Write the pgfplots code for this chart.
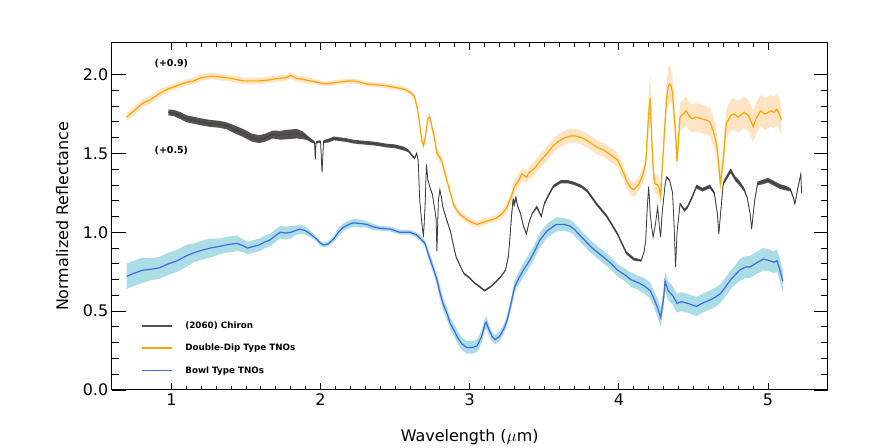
\documentclass[border=0pt]{standalone}
\usepackage{fontspec}
\setmainfont{DejaVu Sans}
\usepackage{pgfplots}
\usepackage{pgfplotstable}
\pgfplotsset{compat=1.18}

\definecolor{ddLine}{RGB}{255,165,0}
\definecolor{ddBand}{RGB}{255,228,196}
\definecolor{bwLine}{RGB}{65,105,225}
\definecolor{bwBand}{RGB}{170,221,229}
\definecolor{chLine}{RGB}{62,62,62}
\definecolor{chBand}{RGB}{84,80,76}

\pgfplotsset{
  frame/.style={at={(111.7bp,56bp)}, anchor=south west,
    scale only axis, width=716bp, height=347bp,
    xmin=0.6, xmax=5.4, ymin=0, ymax=2.2},
  band/.style={frame, hide axis, stack plots=y},
}

% Double-Dip type TNOs (offset +0.9): x, mean, half width of band
\pgfplotstableread{
x y e
0.70 1.73 0.025
0.75 1.77 0.025
0.81 1.82 0.025
0.86 1.84 0.025
0.92 1.88 0.025
0.98 1.91 0.02
1.04 1.93 0.02
1.10 1.95 0.02
1.15 1.96 0.02
1.20 1.98 0.02
1.26 1.99 0.02
1.32 1.985 0.02
1.37 1.98 0.02
1.43 1.97 0.02
1.48 1.96 0.02
1.53 1.96 0.02
1.59 1.96 0.02
1.65 1.965 0.02
1.71 1.975 0.02
1.77 1.98 0.02
1.80 1.995 0.02
1.84 1.975 0.02
1.88 1.97 0.02
1.93 1.96 0.02
1.98 1.95 0.015
2.04 1.94 0.015
2.10 1.95 0.015
2.15 1.955 0.015
2.20 1.96 0.015
2.25 1.955 0.015
2.31 1.94 0.015
2.37 1.935 0.015
2.43 1.93 0.015
2.49 1.92 0.015
2.55 1.91 0.015
2.58 1.90 0.015
2.61 1.88 0.015
2.63 1.86 0.015
2.65 1.78 0.02
2.66 1.72 0.02
2.67 1.64 0.02
2.68 1.58 0.02
2.69 1.55 0.02
2.70 1.59 0.02
2.71 1.66 0.025
2.72 1.72 0.025
2.73 1.73 0.025
2.74 1.70 0.025
2.75 1.65 0.025
2.76 1.62 0.025
2.77 1.56 0.03
2.78 1.50 0.03
2.81 1.46 0.03
2.83 1.39 0.025
2.85 1.32 0.025
2.87 1.25 0.02
2.89 1.18 0.02
2.92 1.13 0.02
2.94 1.11 0.02
2.98 1.08 0.02
3.02 1.06 0.02
3.05 1.05 0.02
3.08 1.06 0.02
3.11 1.07 0.02
3.15 1.08 0.02
3.18 1.09 0.02
3.22 1.12 0.025
3.25 1.16 0.03
3.28 1.23 0.035
3.30 1.29 0.04
3.33 1.33 0.04
3.35 1.37 0.04
3.38 1.35 0.04
3.40 1.38 0.04
3.43 1.40 0.045
3.47 1.45 0.045
3.51 1.49 0.045
3.56 1.55 0.045
3.60 1.58 0.045
3.64 1.60 0.045
3.67 1.61 0.045
3.71 1.61 0.045
3.75 1.60 0.045
3.79 1.58 0.045
3.85 1.54 0.045
3.90 1.52 0.045
3.96 1.48 0.045
3.99 1.46 0.045
4.03 1.38 0.045
4.05 1.33 0.045
4.08 1.28 0.045
4.10 1.27 0.045
4.13 1.30 0.045
4.16 1.36 0.05
4.18 1.44 0.06
4.19 1.60 0.08
4.20 1.75 0.12
4.21 1.85 0.15
4.22 1.60 0.10
4.23 1.40 0.07
4.24 1.31 0.06
4.26 1.30 0.06
4.27 1.28 0.06
4.28 1.23 0.06
4.29 1.40 0.07
4.30 1.55 0.08
4.32 1.85 0.10
4.33 1.92 0.12
4.34 1.94 0.12
4.35 1.93 0.10
4.36 1.88 0.10
4.37 1.75 0.09
4.38 1.62 0.08
4.39 1.45 0.07
4.40 1.60 0.08
4.41 1.73 0.09
4.43 1.75 0.09
4.45 1.77 0.09
4.47 1.74 0.09
4.49 1.72 0.09
4.52 1.73 0.09
4.55 1.72 0.09
4.59 1.71 0.09
4.61 1.70 0.09
4.63 1.65 0.09
4.65 1.58 0.09
4.66 1.52 0.08
4.67 1.42 0.07
4.68 1.31 0.06
4.69 1.38 0.07
4.70 1.46 0.08
4.71 1.58 0.09
4.72 1.69 0.09
4.75 1.74 0.10
4.77 1.75 0.10
4.80 1.73 0.10
4.84 1.76 0.10
4.87 1.74 0.10
4.90 1.67 0.10
4.92 1.72 0.10
4.95 1.77 0.10
4.98 1.75 0.10
5.02 1.77 0.10
5.04 1.76 0.10
5.06 1.78 0.10
5.08 1.74 0.10
5.09 1.71 0.10
}\dd

% (2060) Chiron (offset +0.5): x, value, half width of the noise
\pgfplotstableread{
x y e
0.98 1.76 0.018
1.02 1.755 0.02
1.06 1.74 0.022
1.10 1.72 0.022
1.15 1.71 0.022
1.20 1.70 0.022
1.26 1.69 0.022
1.32 1.685 0.022
1.37 1.675 0.022
1.43 1.65 0.025
1.48 1.63 0.025
1.54 1.60 0.025
1.59 1.59 0.025
1.63 1.60 0.025
1.68 1.62 0.025
1.73 1.615 0.028
1.78 1.62 0.03
1.84 1.625 0.03
1.88 1.615 0.025
1.91 1.60 0.015
1.94 1.58 0.012
1.96 1.57 0.008
1.965 1.46 0.003
1.97 1.57 0.008
2.00 1.575 0.008
2.01 1.38 0.003
2.02 1.575 0.008
2.05 1.58 0.012
2.09 1.595 0.012
2.13 1.59 0.012
2.17 1.585 0.012
2.22 1.575 0.012
2.27 1.57 0.012
2.33 1.565 0.012
2.38 1.56 0.012
2.44 1.55 0.012
2.50 1.545 0.012
2.56 1.53 0.012
2.59 1.515 0.008
2.61 1.49 0.008
2.63 1.47 0.008
2.645 1.50 0.008
2.655 1.45 0.003
2.665 1.20 0.003
2.68 1.05 0.003
2.69 0.97 0.003
2.70 1.15 0.003
2.71 1.43 0.003
2.715 1.38 0.003
2.72 1.33 0.003
2.735 1.28 0.006
2.75 1.24 0.006
2.765 1.15 0.003
2.775 1.08 0.003
2.78 0.88 0.003
2.79 1.20 0.003
2.80 1.27 0.003
2.81 1.22 0.006
2.82 1.16 0.006
2.845 1.08 0.006
2.87 1.01 0.006
2.89 0.92 0.006
2.91 0.84 0.006
2.94 0.78 0.006
2.96 0.74 0.006
3.00 0.71 0.006
3.03 0.68 0.006
3.06 0.66 0.006
3.10 0.63 0.006
3.14 0.655 0.006
3.18 0.69 0.006
3.21 0.72 0.006
3.24 0.76 0.006
3.26 0.85 0.006
3.27 0.97 0.012
3.28 1.10 0.02
3.29 1.20 0.02
3.30 1.18 0.02
3.31 1.22 0.012
3.32 1.17 0.006
3.34 1.12 0.006
3.36 1.04 0.006
3.38 0.99 0.006
3.40 1.07 0.006
3.42 1.12 0.006
3.45 1.16 0.01
3.48 1.10 0.006
3.50 1.18 0.01
3.52 1.22 0.01
3.56 1.29 0.01
3.61 1.32 0.01
3.66 1.32 0.01
3.70 1.31 0.01
3.75 1.29 0.01
3.79 1.26 0.01
3.85 1.18 0.01
3.92 1.10 0.01
3.99 0.99 0.01
4.02 0.93 0.01
4.05 0.87 0.01
4.10 0.83 0.01
4.15 0.82 0.006
4.17 0.88 0.003
4.18 0.95 0.003
4.19 1.15 0.003
4.20 1.29 0.003
4.21 1.12 0.003
4.22 1.03 0.003
4.23 0.97 0.003
4.245 1.05 0.003
4.26 1.16 0.003
4.27 1.05 0.003
4.28 0.97 0.003
4.29 1.12 0.003
4.31 1.30 0.006
4.32 1.35 0.006
4.34 1.33 0.006
4.36 1.25 0.006
4.37 1.05 0.003
4.38 0.78 0.003
4.39 1.00 0.003
4.41 1.18 0.008
4.44 1.14 0.01
4.46 1.16 0.01
4.49 1.22 0.012
4.52 1.29 0.012
4.56 1.27 0.012
4.61 1.29 0.012
4.64 1.25 0.01
4.66 1.12 0.006
4.67 0.99 0.003
4.68 1.10 0.006
4.70 1.31 0.012
4.73 1.36 0.015
4.75 1.39 0.015
4.78 1.34 0.015
4.81 1.31 0.015
4.84 1.27 0.012
4.86 1.22 0.006
4.88 1.12 0.003
4.89 1.02 0.003
4.91 1.20 0.006
4.93 1.31 0.012
4.97 1.32 0.015
5.00 1.33 0.015
5.04 1.31 0.015
5.08 1.29 0.015
5.12 1.28 0.015
5.15 1.27 0.01
5.17 1.22 0.006
5.18 1.18 0.006
5.20 1.28 0.006
5.22 1.37 0.006
5.225 1.25 0.003
}\ch

% Bowl type TNOs: x, mean, half width of band
\pgfplotstableread{
x y e
0.70 0.72 0.08
0.75 0.74 0.08
0.81 0.76 0.08
0.86 0.765 0.07
0.92 0.775 0.07
0.98 0.80 0.07
1.04 0.82 0.07
1.10 0.85 0.07
1.15 0.87 0.06
1.20 0.885 0.06
1.26 0.90 0.06
1.32 0.91 0.05
1.37 0.92 0.05
1.44 0.93 0.05
1.48 0.915 0.04
1.51 0.90 0.04
1.55 0.91 0.04
1.59 0.92 0.04
1.63 0.94 0.04
1.66 0.95 0.04
1.70 0.98 0.04
1.73 1.00 0.04
1.77 0.995 0.04
1.80 1.00 0.04
1.83 1.01 0.03
1.86 1.02 0.03
1.90 1.01 0.025
1.93 0.99 0.02
1.97 0.96 0.015
2.00 0.93 0.015
2.02 0.92 0.015
2.05 0.925 0.015
2.09 0.96 0.02
2.12 1.00 0.025
2.15 1.03 0.025
2.19 1.05 0.025
2.22 1.06 0.025
2.27 1.055 0.025
2.31 1.05 0.02
2.35 1.035 0.02
2.40 1.025 0.015
2.47 1.02 0.015
2.53 1.00 0.015
2.60 1.00 0.015
2.64 0.985 0.015
2.67 0.96 0.02
2.70 0.93 0.02
2.73 0.84 0.03
2.76 0.76 0.03
2.78 0.70 0.035
2.80 0.62 0.04
2.82 0.55 0.04
2.85 0.48 0.04
2.87 0.42 0.04
2.90 0.37 0.04
2.92 0.33 0.04
2.95 0.29 0.04
2.98 0.27 0.04
3.02 0.27 0.04
3.05 0.28 0.04
3.08 0.34 0.04
3.10 0.41 0.04
3.11 0.43 0.04
3.13 0.38 0.035
3.15 0.34 0.03
3.17 0.32 0.03
3.20 0.34 0.03
3.23 0.39 0.03
3.25 0.44 0.03
3.28 0.56 0.035
3.30 0.65 0.04
3.33 0.71 0.04
3.36 0.76 0.045
3.40 0.82 0.045
3.43 0.87 0.045
3.47 0.95 0.045
3.52 1.01 0.045
3.58 1.05 0.045
3.63 1.05 0.04
3.67 1.04 0.04
3.70 1.02 0.04
3.73 0.99 0.04
3.77 0.95 0.04
3.81 0.91 0.04
3.86 0.87 0.04
3.90 0.84 0.04
3.95 0.80 0.04
3.99 0.76 0.04
4.04 0.73 0.04
4.08 0.70 0.045
4.13 0.68 0.045
4.17 0.66 0.05
4.21 0.63 0.05
4.23 0.59 0.05
4.26 0.52 0.06
4.28 0.46 0.06
4.30 0.58 0.06
4.31 0.69 0.06
4.33 0.63 0.06
4.36 0.60 0.06
4.39 0.55 0.06
4.42 0.56 0.06
4.46 0.55 0.06
4.49 0.54 0.06
4.52 0.53 0.06
4.56 0.55 0.06
4.61 0.57 0.06
4.65 0.59 0.06
4.68 0.61 0.06
4.72 0.66 0.06
4.75 0.70 0.06
4.78 0.73 0.06
4.81 0.76 0.07
4.85 0.78 0.07
4.88 0.78 0.07
4.93 0.81 0.07
4.97 0.83 0.07
5.01 0.82 0.07
5.04 0.81 0.07
5.06 0.82 0.07
5.08 0.76 0.07
5.09 0.72 0.07
5.10 0.69 0.07
}\bw

\begin{document}
\begin{tikzpicture}
% uncertainty bands: lower edge stacked with the band width
\begin{axis}[band]
\addplot[draw=none, fill=none] table[x=x, y expr=\thisrow{y}-\thisrow{e}] {\dd} \closedcycle;
\addplot[draw=none, fill=ddBand] table[x=x, y expr=2*\thisrow{e}] {\dd} \closedcycle;
\end{axis}
\begin{axis}[band]
\addplot[draw=none, fill=none] table[x=x, y expr=\thisrow{y}-\thisrow{e}] {\bw} \closedcycle;
\addplot[draw=none, fill=bwBand] table[x=x, y expr=2*\thisrow{e}] {\bw} \closedcycle;
\end{axis}
\begin{axis}[band]
\addplot[draw=none, fill=none] table[x=x, y expr=\thisrow{y}-\thisrow{e}] {\ch} \closedcycle;
\addplot[draw=none, fill=chBand] table[x=x, y expr=2*\thisrow{e}] {\ch} \closedcycle;
\end{axis}

\begin{axis}[
  frame,
  xtick={1,2,3,4,5}, ytick={0,0.5,1,1.5,2},
  minor x tick num=9, minor y tick num=4,
  xtick pos=both, ytick pos=both,
  xticklabel pos=lower, yticklabel pos=left,
  xticklabel style={/pgf/number format/fixed},
  yticklabel style={/pgf/number format/fixed, /pgf/number format/fixed zerofill,
    /pgf/number format/precision=1},
  /pgf/number format/assume math mode=true,
  tick align=inside,
  major tick length=14bp, minor tick length=7bp,
  xtick style={/pgfplots/major tick length=7bp, /pgfplots/minor tick length=4bp},
  tick style={black, line width=0.9bp},
  axis line style={black, line width=1bp},
  ticklabel style={font=\fontsize{16}{19}\selectfont},
  xlabel={Wavelength ($\mu$m)},
  ylabel={Normalized Reflectance},
  every axis x label/.style={at={(0.5,-0.135)}, anchor=center,
    font=\fontsize{16}{19}\selectfont},
  every axis y label/.style={at={(-0.069,0.5)}, rotate=90, anchor=center,
    font=\fontsize{16}{19}\selectfont},
  legend style={draw=none, fill=none, at={(0.036,0.205)}, anchor=north west,
    font=\fontsize{8.8}{10}\selectfont\bfseries, row sep=12bp,
    nodes={inner sep=1bp}},
  legend cell align=left,
  legend image code/.code={\draw[#1, line width=1.7bp] (0bp,0bp) -- (30bp,0bp);},
  /tikz/every odd column/.append style={column sep=12bp},
]
\addplot[ddLine, line width=1.2bp, forget plot] table[x=x, y=y] {\dd};
\addplot[bwLine, line width=1.2bp, forget plot] table[x=x, y=y] {\bw};
\addplot[chLine, line width=0.8bp, forget plot] table[x=x, y=y] {\ch};
\addlegendimage{chLine!90!white, line width=1.7bp}
\addlegendentry{(2060) Chiron}
\addlegendimage{ddLine, line width=1.7bp}
\addlegendentry{Double-Dip Type TNOs}
\addlegendimage{bwLine, line width=1.7bp}
\addlegendentry{Bowl Type TNOs}

\node[font=\fontsize{9.5}{11}\selectfont\bfseries] at (axis cs:1.0,2.07) {(+0.9)};
\node[font=\fontsize{9.5}{11}\selectfont\bfseries] at (axis cs:1.0,1.52) {(+0.5)};
\end{axis}
\path (0,0) rectangle (894bp,446bp);
\end{tikzpicture}
\end{document}
